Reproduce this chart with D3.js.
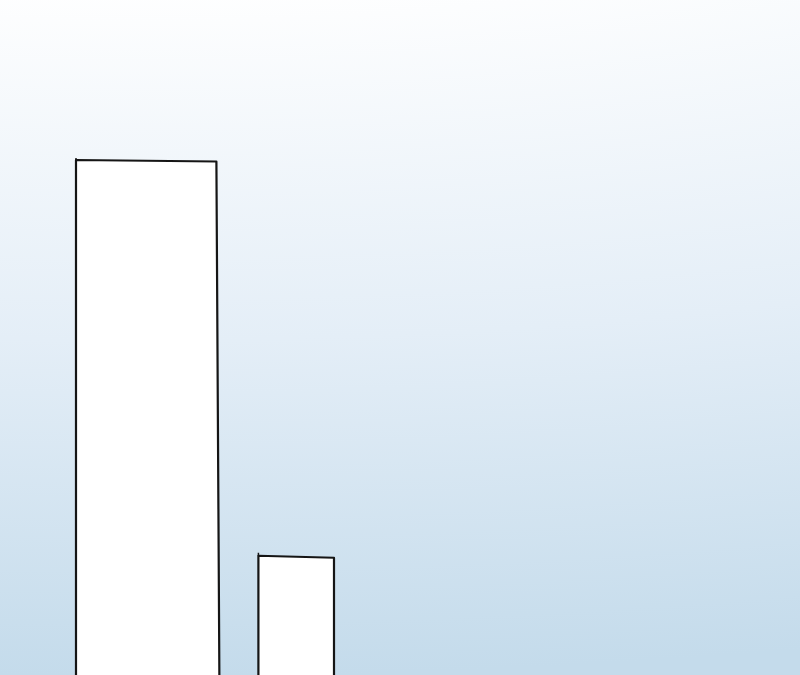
<!DOCTYPE html>
<html>
<head>
<meta charset="utf-8">
<script src="https://cdn.jsdelivr.net/npm/d3@7"></script>
<style>
  html, body { margin: 0; padding: 0; }
  body { width: 800px; height: 675px; overflow: hidden; }
</style>
</head>
<body>
<div id="chart"></div>
<script>
// data
const categories = ["A", "B"];
const values = [100, 23.7];
const widths = [65, 35];

class sketchBars {
    constructor(parentElement) {
        this.parentElement = parentElement;
        this.initVis();
    }

    initVis() {
        let vis = this;

        vis.width = 800;
        vis.height = 675;

        vis.svg = d3.select("#" + vis.parentElement)
            .append("svg")
            .attr("width", vis.width)
            .attr("height", vis.height);

        // background gradient, wide ellipse from the top-left
        let defs = vis.svg.append("defs");
        let grad = defs.append("radialGradient")
            .attr("id", "bg")
            .attr("gradientUnits", "userSpaceOnUse")
            .attr("cx", 150).attr("cy", -500)
            .attr("r", 1200)
            .attr("gradientTransform", "translate(150,-500) scale(2.6,1) translate(-150,500)");
        grad.append("stop").attr("offset", 0.4).attr("stop-color", "#ffffff");
        grad.append("stop").attr("offset", 0.7).attr("stop-color", "#e4eef7");
        grad.append("stop").attr("offset", 0.98).attr("stop-color", "#c4dbeb");

        vis.svg.append("rect")
            .attr("width", vis.width)
            .attr("height", vis.height)
            .attr("fill", "url(#bg)");

        vis.gap = 42;
        vis.x = d3.scaleLinear()
            .domain([0, d3.sum(widths)])
            .range([76, 76 + 216]);

        vis.y = d3.scaleLinear()
            .domain([0, d3.max(values)])
            .range([680, 160]);

        vis.wrangleData();
    }

    wrangleData() {
        let vis = this;
        let cum = 0;
        vis.displayData = categories.map((c, i) => {
            let d = {name: c, value: values[i], start: cum, w: widths[i], i: i};
            cum += widths[i];
            return d;
        });
        vis.updateVis();
    }

    updateVis() {
        let vis = this;
        // hand-drawn wobble per bar: [topLeftDy, topRightDy, bottomRightDx, overshoot]
        const wobble = [[0, 1.5, 3, 2], [-1, 1, 0, 3]];

        vis.displayData.forEach(d => {
            let x0 = vis.x(d.start) + d.i * vis.gap;
            let x1 = vis.x(d.start + d.w) + d.i * vis.gap;
            let yt = vis.y(d.value);
            let yb = vis.y(0);
            let wb = wobble[d.i];

            let g = vis.svg.append("g").attr("class", "bar");

            g.append("path")
                .attr("d", `M${x0},${yb} L${x0},${yt + wb[0]} L${x1},${yt + wb[1]} L${x1 + wb[2]},${yb}`)
                .attr("fill", "#ffffff")
                .attr("stroke", "#151515")
                .attr("stroke-width", 2.2)
                .attr("stroke-linejoin", "round");

            // small overshoot at the top-left corner
            g.append("line")
                .attr("x1", x0).attr("x2", x0)
                .attr("y1", yt + wb[0]).attr("y2", yt + wb[0] - wb[3])
                .attr("stroke", "#151515")
                .attr("stroke-width", 1.5);
        });
    }
}

new sketchBars("chart");
</script>
</body>
</html>
